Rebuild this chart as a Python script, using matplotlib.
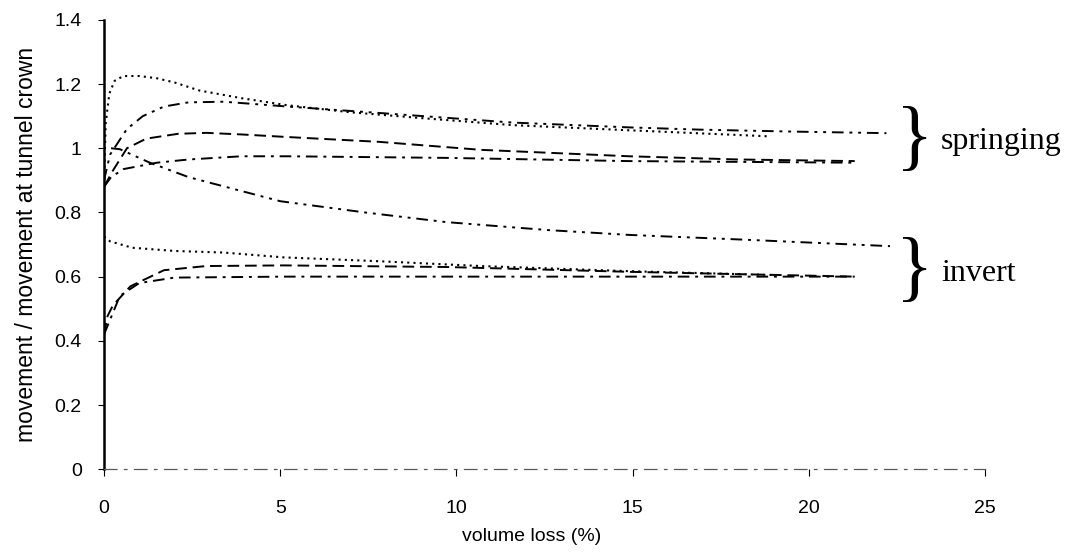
import matplotlib
matplotlib.use("Agg")
import matplotlib.pyplot as plt

# springing curves
spr_dot_x = [0, 0.05, 0.15, 0.3, 0.55, 1.0, 1.5, 2.0, 2.7, 3.9, 5.2, 7.0, 9.0, 11.6, 14.9, 17.0, 18.9]
spr_dot_y = [0.90, 1.08, 1.17, 1.21, 1.225, 1.225, 1.218, 1.205, 1.18, 1.156, 1.134, 1.112, 1.094, 1.072, 1.056, 1.046, 1.037]

spr_dashdot_hi_x = [0, 0.17, 0.65, 1.1, 1.7, 2.4, 3.4, 5.2, 7.8, 11.6, 14.9, 16.9, 19.5, 22.2]
spr_dashdot_hi_y = [0.90, 0.98, 1.06, 1.10, 1.13, 1.143, 1.145, 1.13, 1.11, 1.08, 1.065, 1.058, 1.052, 1.047]

spr_dash_x = [0, 0.25, 0.65, 1.2, 2.1, 2.9, 3.9, 5.2, 7.8, 10.7, 14.9, 18.0, 21.3]
spr_dash_y = [0.88, 0.93, 1.0, 1.03, 1.045, 1.048, 1.043, 1.035, 1.02, 0.995, 0.975, 0.965, 0.96]

spr_dashdot_lo_x = [0, 0.2, 0.55, 1.5, 2.4, 3.9, 5.2, 9.7, 14.9, 21.3]
spr_dashdot_lo_y = [0.88, 0.91, 0.935, 0.955, 0.965, 0.975, 0.975, 0.97, 0.96, 0.955]

mid_x = [0.2, 0.45, 1.3, 2.4, 5.0, 7.4, 9.7, 12.6, 14.9, 18.2, 22.3]
mid_y = [1.0, 0.997, 0.955, 0.91, 0.835, 0.80, 0.77, 0.745, 0.73, 0.715, 0.695]

# invert curves
inv_dot_x = [0, 0.17, 0.8, 2.0, 3.4, 5.1, 7.8, 10.7, 14.9, 19.0]
inv_dot_y = [0.725, 0.71, 0.69, 0.68, 0.675, 0.66, 0.648, 0.633, 0.617, 0.605]

inv_dash_x = [0, 0.1, 0.25, 0.75, 1.7, 2.9, 5.1, 9.7, 14.9, 21.3]
inv_dash_y = [0.42, 0.477, 0.51, 0.57, 0.62, 0.633, 0.635, 0.63, 0.615, 0.60]

inv_dashdot_x = [0, 0.45, 1.0, 2.0, 5.1, 14.9, 21.3]
inv_dashdot_y = [0.42, 0.54, 0.58, 0.597, 0.60, 0.60, 0.60]

x_ticks = [0, 5, 10, 15, 20, 25]
y_ticks = [0, 0.2, 0.4, 0.6, 0.8, 1.0, 1.2, 1.4]
y_labels = ["0", "0.2", "0.4", "0.6", "0.8", "1", "1.2", "1.4"]

DOT = (0, (1, 2))
DASH = (0, (6, 3))
DASHDOT = (0, (6, 3, 1.5, 3))
DASHDOTDOT = (0, (6, 3, 1.5, 3, 1.5, 3))

fig = plt.figure(figsize=(10.68, 5.52), dpi=100)
ax = fig.add_axes([0.0974, 0.150, 0.825, 0.814])

ax.plot(spr_dot_x, spr_dot_y, color="black", lw=1.5, linestyle=DOT)
ax.plot(spr_dashdot_hi_x, spr_dashdot_hi_y, color="black", lw=1.4, linestyle=DASHDOTDOT)
ax.plot(spr_dash_x, spr_dash_y, color="black", lw=1.4, linestyle=DASH)
ax.plot(spr_dashdot_lo_x, spr_dashdot_lo_y, color="black", lw=1.4, linestyle=DASHDOT)
ax.plot(mid_x, mid_y, color="black", lw=1.4, linestyle=DASHDOTDOT)
ax.plot(inv_dot_x, inv_dot_y, color="black", lw=1.5, linestyle=DOT)
ax.plot(inv_dash_x, inv_dash_y, color="black", lw=1.4, linestyle=DASH)
ax.plot(inv_dashdot_x, inv_dashdot_y, color="black", lw=1.4, linestyle=DASHDOT)

ax.set_xlim(0, 25)
ax.set_ylim(0, 1.4)
ax.set_xticks(x_ticks)
ax.set_yticks(y_ticks)
ax.set_yticklabels(y_labels)

for s in ["top", "right"]:
    ax.spines[s].set_visible(False)
ax.spines["left"].set_linewidth(1.8)
ax.spines["bottom"].set_color("0.35")
ax.spines["bottom"].set_linewidth(0.9)
ax.spines["bottom"].set_linestyle((0, (10, 6, 2, 6)))

ax.tick_params(axis="y", direction="out", length=4, width=0.8, pad=12, labelsize=14)
ax.tick_params(axis="x", direction="out", length=5, width=0.8, pad=17, labelsize=14)
for lab in ax.get_xticklabels() + ax.get_yticklabels():
    lab.set_fontfamily("Liberation Sans")

ax.set_xlabel("volume loss (%)", fontsize=14, family="Liberation Sans")
ax.xaxis.set_label_coords(0.485, -0.13)
ax.set_ylabel("movement / movement at tunnel crown", fontsize=16.5, family="Liberation Sans")
ax.yaxis.set_label_coords(-0.075, 0.5)

# group annotations
ax.text(23.0, 1.02, "}", fontsize=56, family="Liberation Serif", ha="center", va="center", clip_on=False)
ax.text(23.75, 1.02, "springing", fontsize=23, family="Liberation Serif", ha="left", va="center", clip_on=False)
ax.text(23.0, 0.61, "}", fontsize=56, family="Liberation Serif", ha="center", va="center", clip_on=False)
ax.text(23.75, 0.61, "invert", fontsize=23, family="Liberation Serif", ha="left", va="center", clip_on=False)

fig.savefig("out.png", dpi=100)
